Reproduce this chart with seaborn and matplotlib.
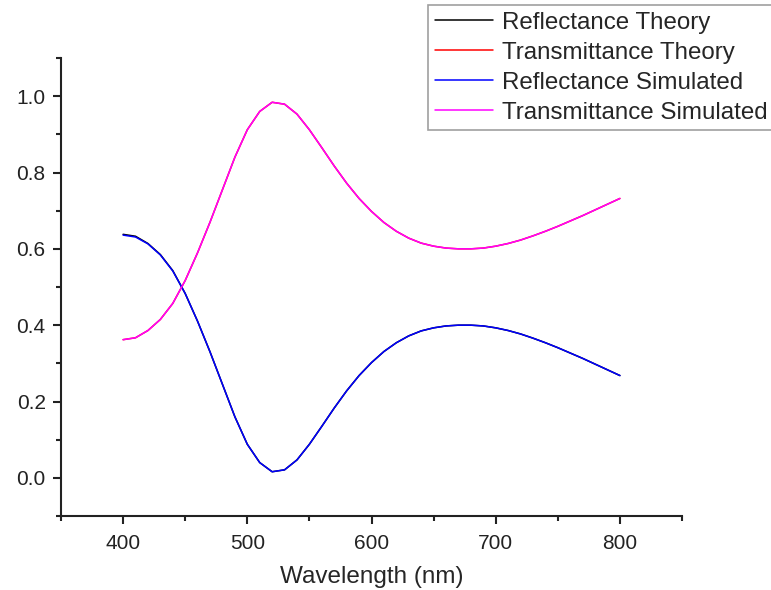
import pandas as pd
import seaborn as sns
import matplotlib.pyplot as plt
from matplotlib.ticker import MultipleLocator

# wavelength grid (nm)
wavelength = [400, 410, 420, 430, 440, 450, 460, 470, 480, 490,
              500, 510, 520, 530, 540, 550, 560, 570, 580, 590,
              600, 610, 620, 630, 640, 650, 660, 670, 680, 690,
              700, 710, 720, 730, 740, 750, 760, 770, 780, 790, 800]

refl_theory = [0.638, 0.633, 0.614, 0.585, 0.543, 0.483, 0.410, 0.330, 0.245, 0.160,
               0.088, 0.040, 0.016, 0.021, 0.047, 0.088, 0.135, 0.183, 0.228, 0.268,
               0.302, 0.331, 0.354, 0.372, 0.385, 0.393, 0.398, 0.400, 0.400, 0.398,
               0.393, 0.386, 0.377, 0.366, 0.354, 0.341, 0.327, 0.313, 0.298, 0.283, 0.268]

trans_theory = [0.362, 0.367, 0.386, 0.415, 0.457, 0.517, 0.590, 0.670, 0.755, 0.840,
                0.912, 0.960, 0.984, 0.979, 0.953, 0.912, 0.865, 0.817, 0.772, 0.732,
                0.698, 0.669, 0.646, 0.628, 0.615, 0.607, 0.602, 0.600, 0.600, 0.602,
                0.607, 0.614, 0.623, 0.634, 0.646, 0.659, 0.673, 0.687, 0.702, 0.717, 0.732]

refl_sim = [0.636, 0.631, 0.613, 0.584, 0.542, 0.483, 0.410, 0.330, 0.245, 0.160,
            0.088, 0.040, 0.016, 0.021, 0.047, 0.088, 0.135, 0.183, 0.228, 0.268,
            0.302, 0.331, 0.354, 0.372, 0.385, 0.393, 0.398, 0.400, 0.400, 0.398,
            0.393, 0.386, 0.377, 0.366, 0.354, 0.341, 0.327, 0.313, 0.298, 0.283, 0.268]

trans_sim = [0.362, 0.367, 0.386, 0.415, 0.457, 0.517, 0.590, 0.670, 0.755, 0.840,
             0.912, 0.960, 0.984, 0.979, 0.953, 0.912, 0.865, 0.817, 0.772, 0.732,
             0.698, 0.669, 0.646, 0.628, 0.615, 0.607, 0.602, 0.600, 0.600, 0.602,
             0.607, 0.614, 0.623, 0.634, 0.646, 0.659, 0.673, 0.687, 0.702, 0.717, 0.732]

series_names = ['Reflectance Theory', 'Transmittance Theory',
                'Reflectance Simulated', 'Transmittance Simulated']
series_colors = ['black', 'red', 'blue', 'magenta']

df = pd.DataFrame({'wavelength': wavelength,
                   series_names[0]: refl_theory,
                   series_names[1]: trans_theory,
                   series_names[2]: refl_sim,
                   series_names[3]: trans_sim})

sns.set_style('ticks')
plt.rcParams['font.family'] = ['Liberation Sans', 'DejaVu Sans']

fig = plt.figure(figsize=(7.71, 5.9), dpi=100)
ax = fig.add_axes([0.0791, 0.1254, 0.8055, 0.7763])

for name, color in zip(series_names, series_colors):
    sns.lineplot(data=df, x='wavelength', y=name, color=color, linewidth=1.1,
                 label=name, ax=ax, legend=False)

ax.set_xlim(350, 850)
ax.set_ylim(-0.1, 1.1)
ax.xaxis.set_major_locator(MultipleLocator(100))
ax.xaxis.set_minor_locator(MultipleLocator(50))
ax.yaxis.set_major_locator(MultipleLocator(0.2))
ax.yaxis.set_minor_locator(MultipleLocator(0.1))
ax.set_xticks([400, 500, 600, 700, 800])
ax.set_yticks([0.0, 0.2, 0.4, 0.6, 0.8, 1.0])
ax.yaxis.set_major_formatter(plt.FormatStrFormatter('%.1f'))

ax.tick_params(which='major', direction='out', length=6, width=1.5,
               labelsize=15, color='#222222', labelcolor='#222222')
ax.tick_params(axis='x', which='major', pad=7)
ax.tick_params(axis='y', which='major', pad=5)
ax.tick_params(which='minor', direction='out', length=3.5, width=1.5, color='#222222')
for side in ['top', 'right']:
    ax.spines[side].set_visible(False)
for side in ['left', 'bottom']:
    ax.spines[side].set_linewidth(1.5)
    ax.spines[side].set_color('#222222')

ax.set_xlabel('Wavelength (nm)', fontsize=17.5, labelpad=9)
ax.set_ylabel('')

leg = ax.legend(loc='upper left', bbox_to_anchor=(428 / 771, 1 - 5 / 590),
                bbox_transform=fig.transFigure, fontsize=17.4, frameon=True,
                fancybox=False, handlelength=2.4, handletextpad=0.37,
                labelspacing=0.33, borderpad=0.28, borderaxespad=0)
leg.get_frame().set_edgecolor('#888888')
leg.get_frame().set_linewidth(1.2)

fig.savefig('out.png', dpi=100)
